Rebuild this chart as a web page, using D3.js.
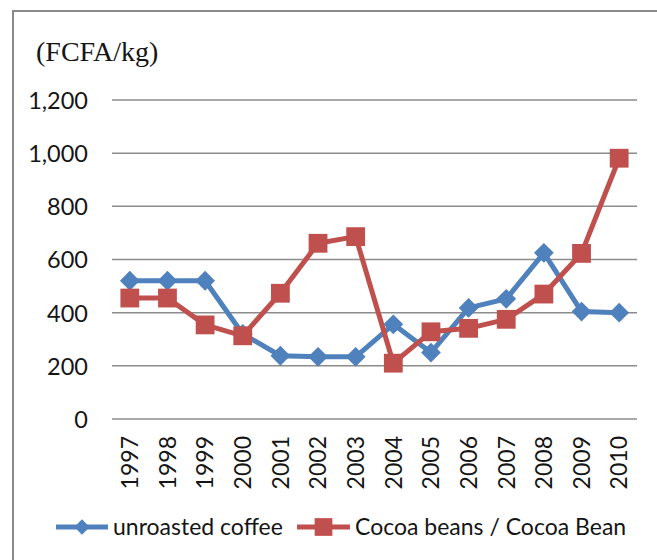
<!DOCTYPE html>
<html>
<head>
<meta charset="utf-8">
<script src="https://cdn.jsdelivr.net/npm/d3@7"></script>
<style>
  html, body { margin: 0; padding: 0; background: #fff; }
  svg { display: block; }
</style>
</head>
<body>
<svg id="chart" width="657" height="560"></svg>
<script>
// Producer prices, FCFA per kg
const years = ["1997","1998","1999","2000","2001","2002","2003","2004","2005","2006","2007","2008","2009","2010"];
const coffee = [520, 520, 520, 320, 238, 234, 234, 356, 250, 418, 452, 625, 404, 400];
const cocoa  = [455, 455, 354, 313, 473, 661, 686, 210, 328, 341, 375, 470, 623, 981];
const yTicks = [0, 200, 400, 600, 800, 1000, 1200];
const seriesNames = ["unroasted coffee", "Cocoa beans / Cocoa Bean"];
const colors = ["#4F81BD", "#C0504D"];

const svg = d3.select("#chart");
const W = 657, H = 560;
const font = "Lato, 'Open Sans', sans-serif";
const textColor = "#151515";

// outer frame (runs off the right and bottom edges)
svg.append("path")
  .attr("d", `M13,${H + 5} L13,11 L${W + 5},11`)
  .attr("fill", "none").attr("stroke", "#8a8a8a").attr("stroke-width", 2);

// unit title
svg.append("text")
  .attr("x", 36).attr("y", 61)
  .attr("font-family", "'Liberation Serif', 'Times New Roman', serif")
  .attr("font-size", 28).attr("fill", textColor)
  .text("(FCFA/kg)");

const x = d3.scaleBand().domain(years).range([111, 638]);
const y = d3.scaleLinear().domain([0, 1200]).range([419, 100]);

// horizontal gridlines
svg.append("g").selectAll("line").data(yTicks).join("line")
  .attr("x1", 112).attr("x2", 637)
  .attr("y1", d => y(d)).attr("y2", d => y(d))
  .attr("stroke", "#8c8c8c").attr("stroke-width", 1.5);

// y axis labels
const yAxis = d3.axisLeft(y).tickValues(yTicks).tickSize(0).tickPadding(0)
  .tickFormat(d3.format(","));
svg.append("g").attr("transform", "translate(88,0)").call(yAxis)
  .call(g => g.select(".domain").remove())
  .selectAll("text")
  .attr("font-family", font).attr("font-size", 23.5).attr("fill", textColor)
  .attr("dy", "0.36em");

// x axis labels, rotated
const xAxis = d3.axisBottom(x).tickSize(0).tickPadding(0);
const xg = svg.append("g").attr("transform", "translate(0,436)").call(xAxis);
xg.select(".domain").remove();
xg.selectAll("text")
  .attr("font-family", font).attr("font-size", 23).attr("fill", textColor)
  .attr("text-anchor", "end")
  .attr("transform", "rotate(-90)")
  .attr("x", 0).attr("y", 0).attr("dy", "0.36em");

const cx = (d, i) => x(years[i]) + x.bandwidth() / 2;
const line = d3.line().x(cx).y(d => y(d));

const diamond = d3.symbol().type(d3.symbolDiamond2);
const square = d3.symbol().type(d3.symbolSquare2);

// coffee series
svg.append("path").datum(coffee)
  .attr("d", line).attr("fill", "none")
  .attr("stroke", colors[0]).attr("stroke-width", 5).attr("stroke-linejoin", "round");
svg.append("g").selectAll("path").data(coffee).join("path")
  .attr("transform", (d, i) => `translate(${cx(d, i)},${y(d)})`)
  .attr("d", diamond.size(250)())
  .attr("fill", colors[0]);

// cocoa series
svg.append("path").datum(cocoa)
  .attr("d", line).attr("fill", "none")
  .attr("stroke", colors[1]).attr("stroke-width", 5).attr("stroke-linejoin", "round");
svg.append("g").selectAll("path").data(cocoa).join("path")
  .attr("transform", (d, i) => `translate(${cx(d, i)},${y(d)})`)
  .attr("d", square.size(450)())
  .attr("fill", colors[1]);

// legend
const legend = [
  { name: seriesNames[0], color: colors[0], sym: diamond.size(150)(), x0: 56, x1: 108, tx: 113 },
  { name: seriesNames[1], color: colors[1], sym: square.size(400)(), x0: 297, x1: 350, tx: 355 }
];
const lg = svg.append("g");
legend.forEach(l => {
  lg.append("line").attr("x1", l.x0).attr("x2", l.x1).attr("y1", 527).attr("y2", 527)
    .attr("stroke", l.color).attr("stroke-width", 5);
  lg.append("path").attr("d", l.sym)
    .attr("transform", `translate(${(l.x0 + l.x1) / 2},527)`)
    .attr("fill", l.color);
  lg.append("text").attr("x", l.tx).attr("y", 535)
    .attr("font-family", font).attr("font-size", 23).attr("fill", textColor)
    .text(l.name);
});
</script>
</body>
</html>
